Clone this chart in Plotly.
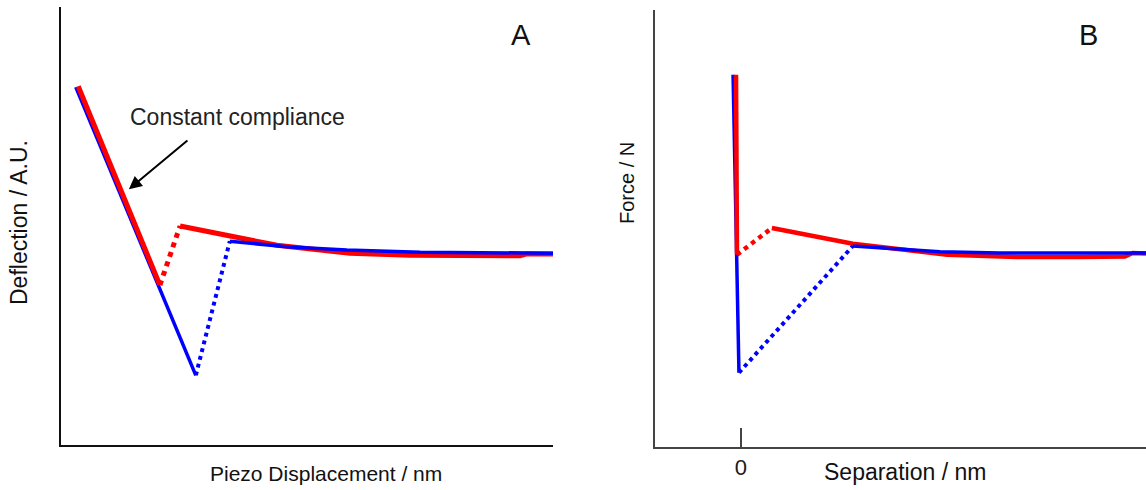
import plotly.graph_objects as go

# ---------------- Panel A: deflection vs piezo displacement ----------------
# approach (blue)
a_app_contact_x = [3.0, 27.4]
a_app_contact_y = [37.9, -27.9]
a_app_jump_x = [27.4, 34.3]
a_app_jump_y = [-27.9, 2.7]
a_app_free_x = [34.3, 46.5, 58.1, 73.0, 100.0]
a_app_free_y = [2.7, 1.4, 0.7, 0.2, 0.0]

# retraction (red)
a_ret_contact_x = [3.5, 20.1]
a_ret_contact_y = [38.1, -7.3]
a_ret_jump_x = [20.1, 24.2]
a_ret_jump_y = [-7.3, 6.2]
a_ret_free_x = [24.2, 34.3, 43.9, 58.7, 70.9, 93.3, 94.5, 100.0]
a_ret_free_y = [6.2, 3.9, 1.8, 0.0, -0.5, -0.6, -0.2, -0.2]

# ---------------- Panel B: force vs separation ----------------
# approach (blue)
b_app_contact_x = [-1.6, -0.8, -0.4]
b_app_contact_y = [41.0, -0.2, -27.2]
b_app_jump_x = [-0.4, 22.8]
b_app_jump_y = [-27.2, 1.8]
b_app_free_x = [22.8, 40.5, 52.7, 82.5]
b_app_free_y = [1.8, 0.5, 0.2, 0.2]

# retraction (red)
b_ret_contact_x = [-1.0, -0.8]
b_ret_contact_y = [41.0, -0.2]
b_ret_jump_x = [-0.8, 6.3]
b_ret_jump_y = [-0.2, 5.9]
b_ret_free_x = [6.3, 22.8, 42.0, 56.2, 68.6, 78.2, 79.8, 82.5]
b_ret_free_y = [5.9, 2.3, -0.2, -0.7, -0.7, -0.6, 0.2, 0.1]

b_tick_vals = [0]
b_tick_text = ["0"]

RED = "#ff0000"
BLUE = "#0000ff"
FONT = "Liberation Sans, Arial, sans-serif"
W, H = 1146, 490


def seg(x, y, color, width, dash, xa, ya):
    return go.Scatter(
        x=x, y=y, mode="lines", xaxis=xa, yaxis=ya, hoverinfo="skip",
        line=dict(color=color, width=width, dash=dash), showlegend=False,
    )


fig = go.Figure()

# panel A (blue contact line under red, blue free branch on top)
fig.add_trace(seg(a_app_contact_x, a_app_contact_y, BLUE, 3.5, "solid", "x", "y"))
fig.add_trace(seg(a_ret_contact_x, a_ret_contact_y, RED, 5, "solid", "x", "y"))
fig.add_trace(seg(a_ret_jump_x, a_ret_jump_y, RED, 5, "dot", "x", "y"))
fig.add_trace(seg(a_ret_free_x, a_ret_free_y, RED, 5, "solid", "x", "y"))
fig.add_trace(seg(a_app_jump_x, a_app_jump_y, BLUE, 4, "dot", "x", "y"))
fig.add_trace(seg(a_app_free_x, a_app_free_y, BLUE, 3.5, "solid", "x", "y"))

# panel B
fig.add_trace(seg(b_app_contact_x, b_app_contact_y, BLUE, 3.5, "solid", "x2", "y2"))
fig.add_trace(seg(b_ret_contact_x, b_ret_contact_y, RED, 4.5, "solid", "x2", "y2"))
fig.add_trace(seg(b_ret_jump_x, b_ret_jump_y, RED, 4.5, "dot", "x2", "y2"))
fig.add_trace(seg(b_ret_free_x, b_ret_free_y, RED, 4.5, "solid", "x2", "y2"))
fig.add_trace(seg(b_app_jump_x, b_app_jump_y, BLUE, 4, "dot", "x2", "y2"))
fig.add_trace(seg(b_app_free_x, b_app_free_y, BLUE, 3.5, "solid", "x2", "y2"))

axis_common = dict(showgrid=False, zeroline=False, mirror=False, fixedrange=True)

fig.update_layout(
    width=W, height=H,
    margin=dict(l=0, r=0, t=0, b=0),
    paper_bgcolor="white", plot_bgcolor="white",
    font=dict(family=FONT, color="#1a1a1a"),
    xaxis=dict(domain=[61 / W, 553 / W], range=[0, 100], showline=True,
               linecolor="#111111", linewidth=1.5, showticklabels=False,
               ticks="", anchor="y", **axis_common),
    yaxis=dict(domain=[1 - 445 / H, 1 - 7 / H], range=[-43.8, 56.2], showline=True,
               linecolor="#111111", linewidth=1.5, showticklabels=False,
               ticks="", anchor="x", **axis_common),
    xaxis2=dict(domain=[655 / W, 1.0], range=[-17.5, 82.5], showline=True,
                linecolor="#444444", linewidth=2, tickmode="array",
                tickvals=b_tick_vals, ticktext=b_tick_text, ticks="inside",
                ticklen=19, tickwidth=1.5, tickcolor="#444444",
                tickfont=dict(family=FONT, size=22, color="#1a1a1a"),
                anchor="y2", **axis_common),
    yaxis2=dict(domain=[1 - 447 / H, 1 - 10 / H], range=[-44.2, 55.8], showline=True,
                linecolor="#444444", linewidth=2, showticklabels=False,
                ticks="", anchor="x2", **axis_common),
)

text_annotations = [
    dict(text="Piezo Displacement / nm", x=326 / W, y=1 - 473 / H, size=21, angle=0),
    dict(text="Separation / nm", x=905 / W, y=1 - 472 / H, size=23, angle=0),
    dict(text="Deflection / A.U.", x=19 / W, y=1 - 223 / H, size=23, angle=-90),
    dict(text="Force / N", x=627 / W, y=1 - 183 / H, size=20, angle=-90),
    dict(text="A", x=521 / W, y=1 - 35 / H, size=29, angle=0),
    dict(text="B", x=1088 / W, y=1 - 35 / H, size=29, angle=0),
]
for t in text_annotations:
    fig.add_annotation(
        text=t["text"], x=t["x"], y=t["y"], xref="paper", yref="paper",
        xanchor="center", yanchor="middle", showarrow=False, textangle=t["angle"],
        font=dict(family=FONT, size=t["size"], color="#111111"),
    )

# label and arrow pointing at the constant-compliance region
fig.add_annotation(
    text="Constant compliance", x=35.9, y=31.1, xref="x", yref="y",
    xanchor="center", yanchor="middle", showarrow=False,
    font=dict(family=FONT, size=23, color="#222222"),
)
fig.add_annotation(
    text="", x=13.8, y=14.6, ax=26.0, ay=26.0, xref="x", yref="y",
    axref="x", ayref="y", showarrow=True, arrowhead=2, arrowsize=1.3,
    arrowwidth=2, arrowcolor="#000000",
)

fig.write_html("out.html")
